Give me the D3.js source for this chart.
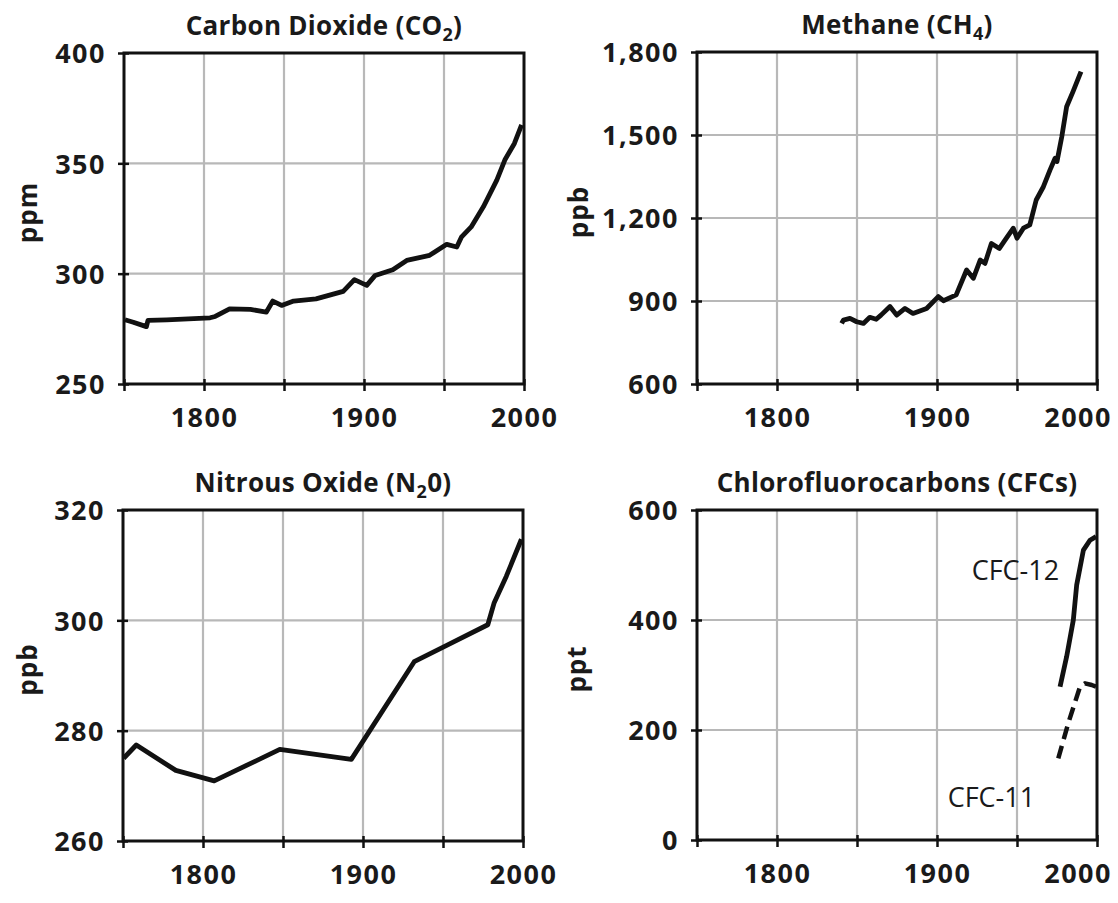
<!DOCTYPE html>
<html>
<head>
<meta charset="utf-8">
<script src="https://cdn.jsdelivr.net/npm/d3@7"></script>
<style>
  html, body { margin: 0; padding: 0; background: #fff; }
  svg { display: block; }
  text { font-family: "Open Sans", "Noto Sans", sans-serif; fill: #1a1a1a; }
</style>
</head>
<body>
<svg id="chart" width="1118" height="903"></svg>
<script>
// ---------------- DATA ----------------
const xTickYears = [1750, 1800, 1850, 1900, 1950, 2000];
const xLabelYears = [1800, 1900, 2000];

const co2Ticks = [250, 300, 350, 400];
const co2Years  = [1750.6, 1755.8, 1764, 1765, 1776.7, 1803.8, 1807, 1816, 1829, 1839, 1843, 1848.5, 1856, 1870, 1887, 1894, 1901.7, 1907, 1918, 1926.7, 1941, 1951.7, 1958, 1961, 1967, 1974.6, 1983, 1988, 1994, 1998.5];
const co2Values = [279.1, 278, 276, 278.8, 279.1, 280, 280.6, 284, 283.8, 282.6, 287.6, 285.6, 287.6, 288.6, 292, 297.3, 294.7, 299.2, 301.8, 306, 308.3, 313.3, 312.1, 316.7, 321.2, 330.3, 342.4, 351.5, 359, 367.4];

const ch4Ticks = [600, 900, 1200, 1500, 1800];
const ch4Years  = [1840.4, 1841.5, 1845.6, 1849.8, 1854, 1858, 1862, 1865, 1870.6, 1874.8, 1880, 1885, 1893.5, 1900.8, 1904, 1912, 1918.5, 1922.7, 1927, 1930, 1934, 1939, 1942.5, 1947.7, 1950, 1954, 1958, 1962, 1966.5, 1970.6, 1973.8, 1975, 1978, 1981, 1985, 1990];
const ch4Values = [819, 831, 837, 825, 819, 841, 834, 849, 880, 849, 873, 855, 873, 916, 901, 922, 1012, 982, 1048, 1036, 1108, 1090, 1120, 1163, 1127, 1163, 1175, 1265, 1313, 1373, 1416, 1404, 1494, 1602, 1657, 1729];

const n2oTicks = [260, 280, 300, 320];
const n2oYears  = [1750.4, 1758.3, 1783, 1807, 1848, 1892.7, 1932, 1952, 1978, 1982, 1989.6, 1999];
const n2oValues = [275, 277.4, 272.8, 270.9, 276.6, 274.8, 292.5, 295.4, 299.2, 303.2, 308, 314.7];

const cfcTicks = [0, 200, 400, 600];
const cfc12Years  = [1976.9, 1981, 1985.2, 1987.3, 1991.5, 1995.6, 1999.4];
const cfc12Values = [278.8, 333, 400, 463.6, 527, 545, 551.5];
const cfc11Years  = [1975.8, 1982, 1989.4, 1992.5, 1996.7, 1999.4];
const cfc11Values = [148.5, 212, 278.8, 284.8, 281.8, 278.8];

const seriesLabels = ["CFC-12", "CFC-11"];
const seriesLabelYears = [1949, 1934];   // annotation centre (year)
const seriesLabelValues = [491, 80];     // annotation centre (ppt)

// ---------------- LAYOUT ----------------
const svg = d3.select("#chart");
const zip = (xs, ys) => xs.map((x, i) => [x, ys[i]]);

const panels = [
  { title: [["Carbon Dioxide (CO", 0], ["2", 1], [")", 0]], left: 124, right: 524, top: 53, bottom: 384,
    yDomain: [250, 400], yTicks: co2Ticks, yFmt: d3.format("d"), yLabel: "ppm", yLabelX: 27,
    lines: [{ data: zip(co2Years, co2Values), dash: null }] },
  { title: [["Methane (CH", 0], ["4", 1], [")", 0]], left: 697, right: 1097, top: 52, bottom: 384,
    yDomain: [600, 1800], yTicks: ch4Ticks, yFmt: d3.format(","), yLabel: "ppb", yLabelX: 578,
    lines: [{ data: zip(ch4Years, ch4Values), dash: null }] },
  { title: [["Nitrous Oxide (N", 0], ["2", 1], ["0)", 0]], left: 123, right: 523, top: 510, bottom: 841,
    yDomain: [260, 320], yTicks: n2oTicks, yFmt: d3.format("d"), yLabel: "ppb", yLabelX: 27,
    lines: [{ data: zip(n2oYears, n2oValues), dash: null }] },
  { title: [["Chlorofluorocarbons (CFCs)", 0]], left: 697, right: 1097, top: 510, bottom: 840,
    yDomain: [0, 600], yTicks: cfcTicks, yFmt: d3.format("d"), yLabel: "ppt", yLabelX: 576,
    lines: [{ data: zip(cfc12Years, cfc12Values), dash: null },
            { data: zip(cfc11Years, cfc11Values), dash: "13,7" }],
    labels: true }
];

panels.forEach(p => {
  const x = d3.scaleLinear().domain([1750, 2000]).range([p.left, p.right]);
  const y = d3.scaleLinear().domain(p.yDomain).range([p.bottom, p.top]);
  const g = svg.append("g");

  // grid
  g.append("g").selectAll("line").data(xTickYears.slice(1, -1)).join("line")
    .attr("x1", d => x(d)).attr("x2", d => x(d)).attr("y1", p.top).attr("y2", p.bottom)
    .attr("stroke", "#b8b8b8").attr("stroke-width", 2.2);
  g.append("g").selectAll("line").data(p.yTicks.slice(1, -1)).join("line")
    .attr("x1", p.left).attr("x2", p.right).attr("y1", d => y(d)).attr("y2", d => y(d))
    .attr("stroke", "#b8b8b8").attr("stroke-width", 2.2);

  // frame
  g.append("rect").attr("x", p.left).attr("y", p.top)
    .attr("width", p.right - p.left).attr("height", p.bottom - p.top)
    .attr("fill", "none").attr("stroke", "#111").attr("stroke-width", 3);

  const tickFont = sel => sel.style("font-size", "27px").style("font-weight", 700)
    .style("letter-spacing", "1.5px").attr("fill", "#1a1a1a");

  // y axis
  const ya = g.append("g").attr("transform", `translate(${p.left},0)`)
    .call(d3.axisLeft(y).tickValues(p.yTicks).tickFormat(p.yFmt).tickSizeOuter(0).tickSize(6));
  ya.select(".domain").remove();
  ya.selectAll(".tick line").attr("x1", 5).attr("x2", -6).attr("stroke", "#111").attr("stroke-width", 2.5);
  ya.selectAll(".tick text").attr("x", -18).attr("dy", "0.36em").call(tickFont);

  // x axis
  const xa = g.append("g").attr("transform", `translate(0,${p.bottom})`)
    .call(d3.axisBottom(x).tickValues(xTickYears)
      .tickFormat(d => xLabelYears.includes(d) ? String(d) : "").tickSizeOuter(0).tickSize(6));
  xa.select(".domain").remove();
  xa.selectAll(".tick line").attr("y1", -5).attr("y2", 7).attr("stroke", "#111").attr("stroke-width", 2.5);
  xa.selectAll(".tick text").attr("y", 24).attr("dy", "0.72em").call(tickFont);
  // keep the last label inside the picture, as in the reference
  xa.selectAll(".tick text").each(function () {
    const b = this.getBBox();
    const tr = this.parentNode.getCTM();
    const right = tr.e + b.x + b.width;
    if (right > 1112) d3.select(this).attr("x", 1112 - right);
  });

  // y axis title
  g.append("text")
    .attr("transform", `translate(${p.yLabelX},${(p.top + p.bottom) / 2 - 6}) rotate(-90)`)
    .attr("text-anchor", "middle").attr("dominant-baseline", "central")
    .style("font-size", "26px").style("font-weight", 700).style("letter-spacing", "1px")
    .text(p.yLabel);

  // title
  const t = g.append("text").attr("x", (p.left + p.right) / 2).attr("y", p.top - 18)
    .attr("text-anchor", "middle").style("font-size", "26px").style("font-weight", 700)
    .style("letter-spacing", "0.3px");
  let prevSub = false;
  p.title.forEach(([s, sub]) => {
    const ts = t.append("tspan").text(s);
    if (sub) ts.attr("dy", 6).style("font-size", "18px");
    else if (prevSub) ts.attr("dy", -6);
    prevSub = !!sub;
  });

  // lines
  const line = d3.line().x(d => x(d[0])).y(d => y(d[1])).curve(d3.curveLinear);
  p.lines.forEach(l => {
    g.append("path").datum(l.data).attr("d", line)
      .attr("fill", "none").attr("stroke", "#111")
      .attr("stroke-width", l.dash ? 4.5 : 4.8)
      .attr("stroke-linejoin", "round").attr("stroke-linecap", "butt")
      .attr("stroke-dasharray", l.dash);
  });

  if (p.labels) {
    seriesLabels.forEach((s, i) => {
      g.append("text").attr("x", x(seriesLabelYears[i])).attr("y", y(seriesLabelValues[i]))
        .attr("text-anchor", "middle").attr("dominant-baseline", "central")
        .style("font-size", "27px").style("font-weight", 400)
        .text(s);
    });
  }
});
</script>
</body>
</html>
